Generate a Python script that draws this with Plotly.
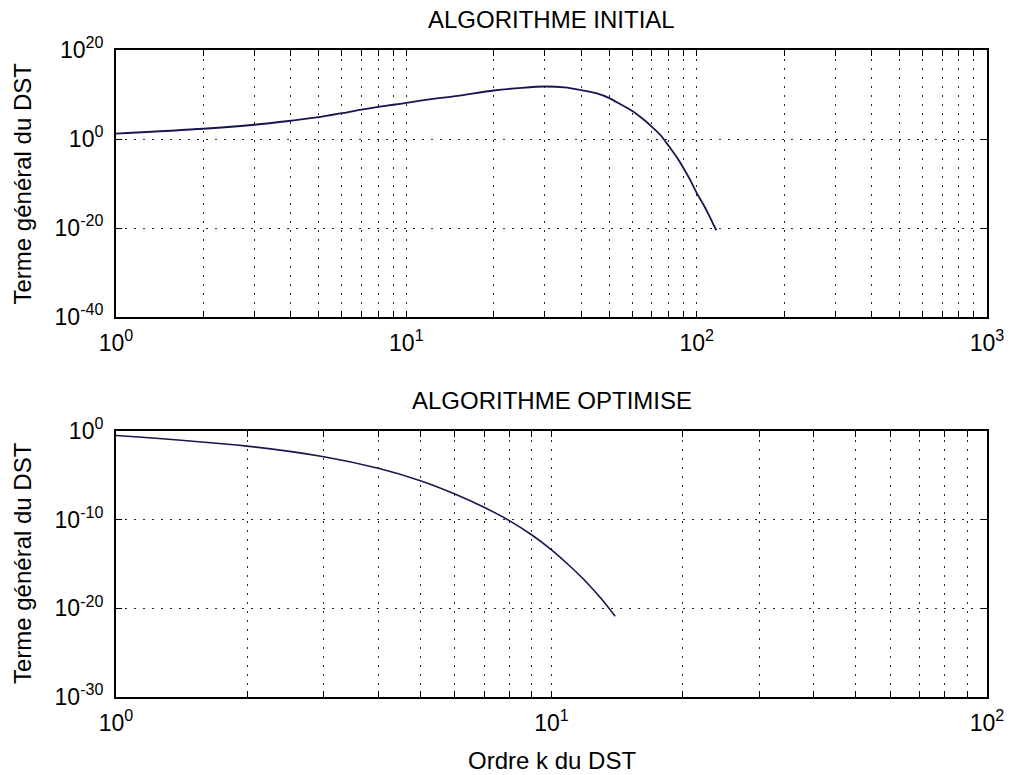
import plotly.graph_objects as go

# ---- data (log10 of the general term) ----
k_initial = [1, 2, 3, 4, 5, 6, 7, 8, 9, 10, 12, 15, 20, 25, 30, 35, 40, 45, 50,
             55, 60, 65, 70, 75, 80, 85, 90, 95, 100, 105, 110, 115, 117]
log_term_initial = [1.2, 2.3, 3.2, 4.1, 4.9, 5.8, 6.6, 7.2, 7.7, 8.1, 8.9, 9.7, 10.9,
                    11.5, 11.8, 11.6, 11.0, 10.3, 9.2, 7.7, 6.3, 4.6, 2.8, 0.9, -1.5,
                    -3.9, -6.5, -9.2, -12.1, -14.5, -17.0, -19.6, -20.5]

k_optimise = [1, 2, 3, 4, 5, 6, 7, 8, 9, 10, 11, 12, 13, 14]
log_term_optimise = [-0.5, -1.7, -2.9, -4.2, -5.6, -7.1, -8.6, -10.1, -11.7, -13.4,
                     -15.2, -17.0, -18.9, -20.9]

titles = ["ALGORITHME INITIAL", "ALGORITHME OPTIMISE"]
ylabel = "Terme général du DST"
xlabel = "Ordre k du DST"

top_x_decades = [0, 1, 2, 3]
top_y_decades = [-40, -20, 0, 20]
bot_x_decades = [0, 1, 2]
bot_y_decades = [-30, -20, -10, 0]

# ---- helpers ----
def log_ticks(decades):
    vals, text = [], []
    for i, d in enumerate(decades):
        for m in range(1, 10):
            if i == len(decades) - 1 and m > 1:
                break
            vals.append(m * 10 ** d)
            text.append(f"10<sup>{d}</sup>" if m == 1 else "")
    return vals, text

def dec_ticks(decades):
    return [10.0 ** d for d in decades], [f"10<sup>{d}</sup>" for d in decades]

FONT = "Liberation Sans, Arial, Helvetica, sans-serif"
LINE_COLOR = "#161650"

fig = go.Figure()
fig.add_trace(go.Scatter(x=k_initial, y=[10.0 ** v for v in log_term_initial],
                         mode="lines", line=dict(color=LINE_COLOR, width=1.8, shape="spline", smoothing=0.8),
                         xaxis="x", yaxis="y", showlegend=False))
fig.add_trace(go.Scatter(x=k_optimise, y=[10.0 ** v for v in log_term_optimise],
                         mode="lines", line=dict(color=LINE_COLOR, width=1.6, shape="spline", smoothing=1.0),
                         xaxis="x2", yaxis="y2", showlegend=False))

common_axis = dict(
    type="log", showline=True, linecolor="black", linewidth=2, mirror="ticks",
    ticks="inside", ticklen=6, tickwidth=1, tickcolor="black",
    showgrid=True, gridcolor="rgba(0,0,0,0.85)", gridwidth=1, griddash="2px,7px",
    zeroline=False, automargin=False,
    tickfont=dict(family=FONT, size=23, color="black"),
)

tx_v, tx_t = log_ticks(top_x_decades)
ty_v, ty_t = dec_ticks(top_y_decades)
bx_v, bx_t = log_ticks(bot_x_decades)
by_v, by_t = dec_ticks(bot_y_decades)

dom_top = [0.5873, 1.0]
dom_bot = [0.0, 0.4111]

fig.update_layout(
    width=1011, height=775,
    margin=dict(l=116, r=24, t=50, b=78),
    paper_bgcolor="white", plot_bgcolor="white",
    font=dict(family=FONT, size=23, color="black"),
    xaxis=dict(common_axis, domain=[0, 1], anchor="y", range=[0, 3],
               tickvals=tx_v, ticktext=tx_t, ticklabelstandoff=4),
    yaxis=dict(common_axis, domain=dom_top, anchor="x", range=[-40, 20],
               tickvals=ty_v, ticktext=ty_t, ticklabelstandoff=6),
    xaxis2=dict(common_axis, domain=[0, 1], anchor="y2", range=[0, 2],
                tickvals=bx_v, ticktext=bx_t, ticklabelstandoff=4),
    yaxis2=dict(common_axis, domain=dom_bot, anchor="x2", range=[-30, 0],
                tickvals=by_v, ticktext=by_t, ticklabelstandoff=6),
)

ann_font = dict(family=FONT, size=24, color="black")
annotations = [
    dict(text=titles[0], x=0.5, y=1.0464, xref="paper", yref="paper",
         showarrow=False, font=ann_font, xanchor="center", yanchor="middle"),
    dict(text=titles[1], x=0.5, y=0.4575, xref="paper", yref="paper",
         showarrow=False, font=ann_font, xanchor="center", yanchor="middle"),
    dict(text=ylabel, x=-0.1079, y=0.7937, xref="paper", yref="paper", textangle=-90,
         showarrow=False, font=ann_font, xanchor="center", yanchor="middle"),
    dict(text=ylabel, x=-0.1079, y=0.207, xref="paper", yref="paper", textangle=-90,
         showarrow=False, font=ann_font, xanchor="center", yanchor="middle"),
    dict(text=xlabel, x=0.5, y=-0.0989, xref="paper", yref="paper",
         showarrow=False, font=ann_font, xanchor="center", yanchor="middle"),
]
fig.update_layout(annotations=annotations)

fig.write_html(
    "out.html",
    config={"displayModeBar": False},
    post_script="document.body.style.margin='0';document.body.style.overflow='hidden';",
)
